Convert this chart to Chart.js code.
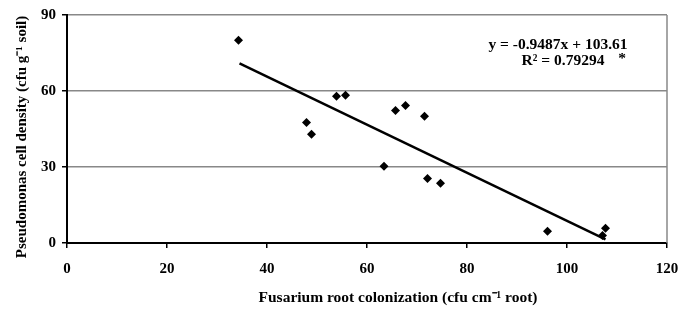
<!DOCTYPE html>
<html>
<head>
<meta charset="utf-8">
<script src="https://cdn.jsdelivr.net/npm/chart.js@4.4.0/dist/chart.umd.min.js"></script>
<style>
  html, body { margin: 0; padding: 0; background: #fff; }
  #wrap { width: 693px; height: 309px; position: relative; }
</style>
</head>
<body>
<div id="wrap"><canvas id="scatterChart" width="693" height="309"></canvas></div>
<script>
// ── Data ──
const colonization = [34.3, 47.9, 48.9, 53.9, 55.7, 65.7, 67.7, 71.5, 63.4, 72.1, 74.7, 96.1, 107.1, 107.7];
const cellDensity  = [80.0, 47.6, 42.9, 57.9, 58.3, 52.3, 54.3, 50.0, 30.3, 25.5, 23.6, 4.6, 3.0, 5.8];

// trendline as printed on the figure
const slope = -0.9487;
const intercept = 103.61;
const trendX = [34.5, 107.7];

const xTicks = [0, 20, 40, 60, 80, 100, 120];
const yTicks = [0, 30, 60, 90];

const serif = '"Liberation Serif", "Times New Roman", serif';

// ── Annotation + axis titles ──
const labelsPlugin = {
  id: 'labels',
  afterDraw(chart) {
    const ctx = chart.ctx;
    ctx.save();
    ctx.fillStyle = '#000';
    ctx.font = 'bold 15.5px ' + serif;
    ctx.textAlign = 'center';
    ctx.textBaseline = 'middle';
    ctx.fillText('y = -0.9487x + 103.61', 558, 45);
    ctx.fillText('R² = 0.79294', 563, 61);
    ctx.fillText('*', 622, 59);

    ctx.font = 'bold 15.5px ' + serif;
    ctx.fillText('Fusarium root colonization (cfu cm⁻¹ root)', 398, 298);

    ctx.font = 'bold 15px ' + serif;
    ctx.translate(22, 137);
    ctx.rotate(-Math.PI / 2);
    ctx.fillText('Pseudomonas cell density (cfu g⁻¹ soil)', 0, 0);
    ctx.restore();
  }
};

// right border of the plot
const borderPlugin = {
  id: 'border',
  beforeDatasetsDraw(chart) {
    const { ctx, chartArea: a } = chart;
    ctx.save();
    ctx.strokeStyle = '#888';
    ctx.lineWidth = 1.5;
    ctx.beginPath();
    ctx.moveTo(a.right, a.top);
    ctx.lineTo(a.right, a.bottom);
    ctx.stroke();
    ctx.restore();
  }
};

const ctx = document.getElementById('scatterChart').getContext('2d');
new Chart(ctx, {
  type: 'scatter',
  data: {
    datasets: [{
      data: colonization.map((x, i) => ({ x, y: cellDensity[i] })),
      pointStyle: 'rectRot',
      pointRadius: 4.5,
      backgroundColor: '#000',
      borderColor: '#000',
      borderWidth: 0,
    }, {
      type: 'line',
      data: trendX.map(x => ({ x, y: slope * x + intercept })),
      borderColor: '#000',
      borderWidth: 2.5,
      pointRadius: 0,
      fill: false,
    }]
  },
  options: {
    responsive: false,
    animation: false,
    devicePixelRatio: 1,
    layout: { padding: { left: 0, right: 26, top: 15, bottom: 0 } },
    plugins: { legend: { display: false }, tooltip: { enabled: false } },
    scales: {
      x: {
        type: 'linear',
        min: 0, max: 120,
        afterBuildTicks: s => { s.ticks = xTicks.map(v => ({ value: v })); },
        afterFit: s => { s.height = 66; },
        border: { color: '#000', width: 2 },
        grid: { display: true, drawOnChartArea: false, drawTicks: true, tickLength: 5, tickColor: '#000', lineWidth: 1.5 },
        ticks: { color: '#000', font: { family: serif, size: 15, weight: 'bold' }, padding: 12, maxRotation: 0 }
      },
      y: {
        min: 0, max: 90,
        afterBuildTicks: s => { s.ticks = yTicks.map(v => ({ value: v })); },
        afterFit: s => { s.width = 67; },
        border: { color: '#000', width: 2 },
        grid: { color: '#888', lineWidth: 1.5, tickLength: 5, tickColor: '#000' },
        ticks: { color: '#000', font: { family: serif, size: 15, weight: 'bold' }, padding: 6 }
      }
    }
  },
  plugins: [labelsPlugin, borderPlugin]
});
</script>
</body>
</html>
